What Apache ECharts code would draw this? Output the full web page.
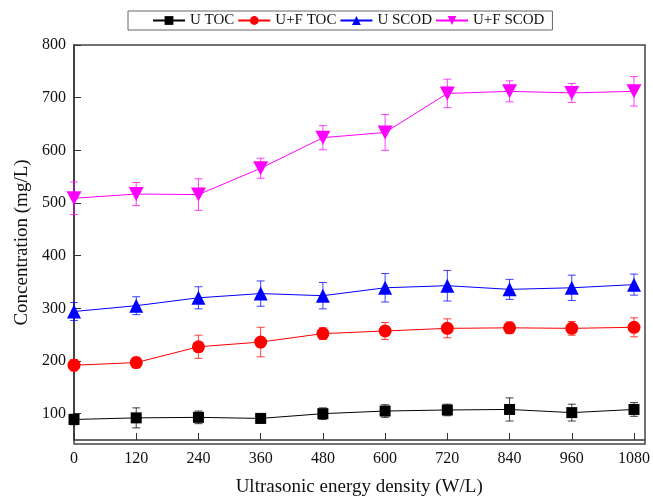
<!DOCTYPE html>
<html>
<head>
<meta charset="utf-8">
<script src="https://cdn.jsdelivr.net/npm/echarts@6/dist/echarts.min.js"></script>
<style>
  html, body { margin: 0; padding: 0; background: #fff; }
  #chart { width: 653px; height: 502px; }
</style>
</head>
<body>
<div id="chart"></div>
<script>
// energy density (W/L)
const energy = [0, 120, 240, 360, 480, 600, 720, 840, 960, 1080];
const yTicks = [100, 200, 300, 400, 500, 600, 700, 800];

// concentrations and errors (mg/L)
const uToc = [89, 92, 93, 91, 100, 105, 107, 108, 102, 108];
const uTocErr = [10, 19, 12, 9, 11, 12, 11, 22, 16, 13];
const ufToc = [192, 197, 227, 236, 252, 257, 262, 263, 262, 264];
const ufTocErr = [11, 10, 22, 28, 11, 16, 18, 11, 13, 18];
const uScod = [294, 305, 320, 328, 324, 339, 343, 336, 339, 345];
const uScodErr = [17, 17, 21, 24, 25, 27, 29, 19, 24, 20];
const ufScod = [509, 517, 516, 566, 624, 634, 708, 712, 709, 712];
const ufScodErr = [31, 22, 30, 19, 23, 34, 27, 20, 18, 28];

const serif = "'Liberation Serif', 'DejaVu Serif', serif";
const downTri = 'path://M0,0 L10,0 L5,9 Z';

function pairs(vals) {
  return energy.map((x, i) => [x, vals[i]]);
}

function lineSeries(name, vals, color, symbol, size) {
  return {
    name: name,
    type: 'line',
    data: pairs(vals),
    symbol: symbol,
    symbolSize: size,
    z: 3,
    lineStyle: { color: color, width: 1 },
    itemStyle: { color: color },
    emphasis: { disabled: true }
  };
}

// vertical error bar with small caps, placed through the axis scales
function errSeries(vals, errs, color) {
  return {
    type: 'custom',
    silent: true,
    z: 2,
    data: energy.map((x, i) => [x, vals[i] - errs[i], vals[i] + errs[i]]),
    encode: { x: 0, y: [1, 2] },
    renderItem: function (params, api) {
      const lo = api.coord([api.value(0), api.value(1)]);
      const hi = api.coord([api.value(0), api.value(2)]);
      const w = 4;
      const style = { stroke: color, lineWidth: 1, fill: null, opacity: 0.75 };
      return {
        type: 'group',
        children: [
          { type: 'line', shape: { x1: hi[0], y1: hi[1], x2: lo[0], y2: lo[1] }, style: style },
          { type: 'line', shape: { x1: hi[0] - w, y1: hi[1], x2: hi[0] + w, y2: hi[1] }, style: style },
          { type: 'line', shape: { x1: lo[0] - w, y1: lo[1], x2: lo[0] + w, y2: lo[1] }, style: style }
        ]
      };
    }
  };
}

const chart = echarts.init(document.getElementById('chart'));
chart.setOption({
  animation: false,
  backgroundColor: '#fff',
  legend: {
    data: ['U TOC', 'U+F TOC', 'U SCOD', 'U+F SCOD'],
    top: 11,
    left: 128,
    padding: [2, 8, 2, 24],
    itemGap: 3,
    itemWidth: 32,
    itemHeight: 11,
    borderColor: '#666',
    borderWidth: 1,
    textStyle: { fontFamily: serif, fontSize: 15, color: '#111' }
  },
  grid: { left: 74, right: 8, top: 45, bottom: 58 },
  xAxis: {
    type: 'value',
    min: 0,
    max: 1100,
    name: 'Ultrasonic energy density (W/L)',
    nameLocation: 'middle',
    nameGap: 38,
    nameTextStyle: { fontFamily: serif, fontSize: 19, color: '#111' },
    axisLine: { lineStyle: { color: '#333', width: 1.5 } },
    axisTick: { inside: true, length: 7, customValues: energy, lineStyle: { color: '#333' } },
    axisLabel: {
      customValues: energy,
      formatter: v => String(v),
      fontFamily: serif, fontSize: 16, color: '#111', margin: 11
    },
    splitLine: { show: false }
  },
  yAxis: {
    type: 'value',
    min: 50,
    max: 800,
    name: 'Concentration (mg/L)',
    nameLocation: 'middle',
    nameGap: 41,
    nameTextStyle: { fontFamily: serif, fontSize: 19, color: '#111' },
    axisLine: { lineStyle: { color: '#333', width: 1.5 } },
    axisTick: { inside: true, length: 7, customValues: yTicks, lineStyle: { color: '#333' } },
    axisLabel: { customValues: yTicks, fontFamily: serif, fontSize: 16, color: '#111', margin: 8 },
    splitLine: { show: false }
  },
  graphic: [{
    type: 'rect',
    silent: true,
    z: 0,
    shape: { x: 74, y: 45, width: 653 - 74 - 8, height: 502 - 45 - 58 },
    style: { fill: null, stroke: '#444', lineWidth: 1.5 }
  }],
  series: [
    errSeries(uToc, uTocErr, '#000'),
    errSeries(ufToc, ufTocErr, '#ff0000'),
    errSeries(uScod, uScodErr, '#0000ff'),
    errSeries(ufScod, ufScodErr, '#ff00ff'),
    lineSeries('U TOC', uToc, '#000', 'rect', 11),
    lineSeries('U+F TOC', ufToc, '#ff0000', 'circle', 13),
    lineSeries('U SCOD', uScod, '#0000ff', 'triangle', 14),
    lineSeries('U+F SCOD', ufScod, '#ff00ff', downTri, [15, 14])
  ]
});
</script>
</body>
</html>
